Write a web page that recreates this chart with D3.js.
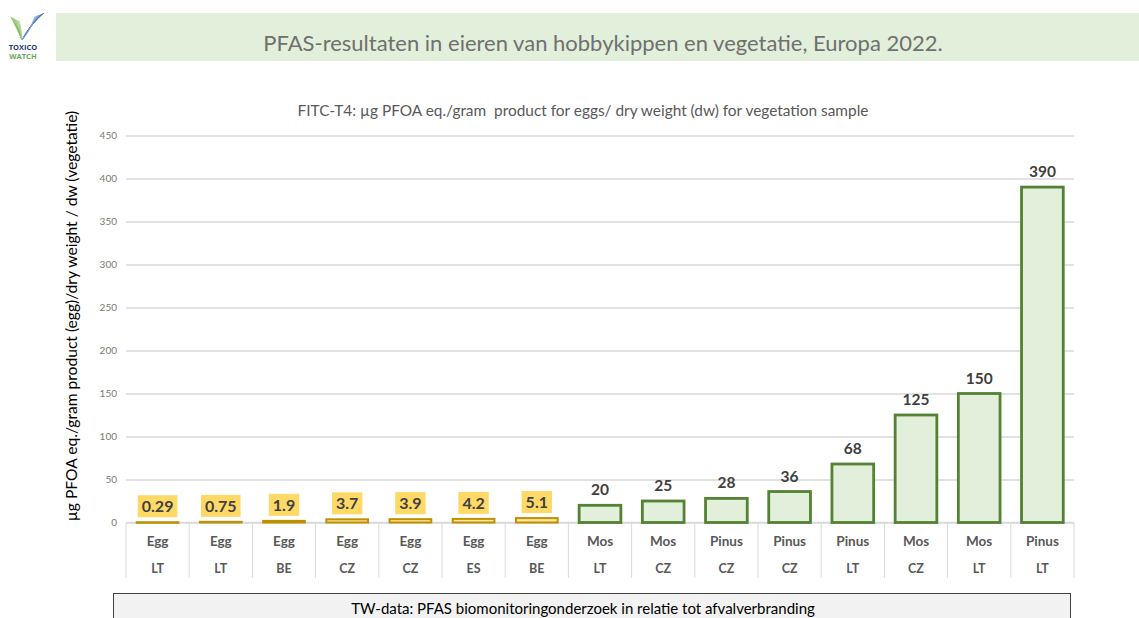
<!DOCTYPE html>
<html><head><meta charset="utf-8">
<script src="https://cdn.jsdelivr.net/npm/d3@7"></script>
<style>body{margin:0;background:#fff}svg{display:block}</style>
</head><body>
<script>
const products = ["Egg","Egg","Egg","Egg","Egg","Egg","Egg","Mos","Mos","Pinus","Pinus","Pinus","Mos","Mos","Pinus"];
const countries = ["LT","LT","BE","CZ","CZ","ES","BE","LT","CZ","CZ","CZ","LT","CZ","LT","LT"];
const values = [0.29,0.75,1.9,3.7,3.9,4.2,5.1,20,25,28,36,68,125,150,390];
const labels = ["0.29","0.75","1.9","3.7","3.9","4.2","5.1","20","25","28","36","68","125","150","390"];
const yTicks = [0,50,100,150,200,250,300,350,400,450];

const W=1139,H=618;
const svg=d3.select("body").append("svg").attr("width",W).attr("height",H);
const font="Lato, 'Open Sans', sans-serif";

// banner
svg.append("rect").attr("x",56).attr("y",13).attr("width",W-56).attr("height",48).attr("fill","#e2efda");
svg.append("text").attr("x",603).attr("y",51).attr("text-anchor","middle").attr("font-family",font)
  .attr("font-size",22).attr("fill","#707070").text("PFAS-resultaten in eieren van hobbykippen en vegetatie, Europa 2022.");

// logo
const lg=svg.append("g");
for(let i=0;i<8;i++){
  lg.append("path").attr("d",`M${11+i*1.2},${17+i*0.6} Q${18+i*0.5},${30} ${22},${40}`).attr("fill","none")
    .attr("stroke",d3.interpolateRgb("#6fb040","#a9d18e")(i/7)).attr("stroke-width",0.8);
  lg.append("path").attr("d",`M${44-i*1.3},${13+i*0.5} Q${30},${24+i} ${22},${40}`).attr("fill","none")
    .attr("stroke",d3.interpolateRgb("#2e4fa0","#7fa7d8")(i/7)).attr("stroke-width",0.8);
}
lg.append("text").attr("x",23).attr("y",50).attr("text-anchor","middle").attr("font-family","'Open Sans',sans-serif")
  .attr("font-weight","bold").attr("font-size",7.5).attr("fill","#1f3c7a").text("TOXICO");
lg.append("text").attr("x",23).attr("y",59).attr("text-anchor","middle").attr("font-family","'Open Sans',sans-serif")
  .attr("font-weight","bold").attr("font-size",7.5).attr("fill","#6aa84f").text("WATCH");

// chart title
svg.append("text").attr("x",583).attr("y",116).attr("text-anchor","middle").attr("font-family",font)
  .attr("font-size",15.4).attr("fill","#595959").attr("xml:space","preserve")
  .text("FITC-T4: µg PFOA eq./gram  product for eggs/ dry weight (dw) for vegetation sample");

const x0=126,x1=1074,yb=522.5,yt=135.5;
const x=d3.scaleBand().domain(d3.range(values.length)).range([x0,x1]).paddingInner(0.34).paddingOuter(0.17);
const xb=d3.scaleBand().domain(d3.range(values.length)).range([x0,x1]);
const y=d3.scaleLinear().domain([0,450]).range([yb,yt]);

// gridlines
const ax=svg.append("g").attr("transform",`translate(${x0},0)`)
  .call(d3.axisLeft(y).tickValues(yTicks).tickSize(-(x1-x0)).tickPadding(9));
ax.select(".domain").remove();
ax.selectAll(".tick line").attr("stroke","#d9d9d9").attr("stroke-width",1.3);
ax.selectAll(".tick text").attr("font-family",font).attr("font-size",10).attr("fill","#7a7a7a");

// y-axis title
svg.append("text").attr("transform",`translate(77,316) rotate(-90)`).attr("text-anchor","middle")
  .attr("font-family",font).attr("font-size",15.6).attr("fill","#000")
  .text("µg PFOA eq./gram product (egg)/dry weight / dw (vegetatie)");

// category dividers
const cg=svg.append("g");
d3.range(values.length+1).forEach(i=>{
  const xx=i<values.length?xb(i):x1;
  cg.append("line").attr("x1",xx).attr("x2",xx).attr("y1",yb).attr("y2",578).attr("stroke","#d9d9d9").attr("stroke-width",1);
});
cg.append("line").attr("x1",x0).attr("x2",x1).attr("y1",yb).attr("y2",yb).attr("stroke","#d9d9d9").attr("stroke-width",1.3);

products.forEach((p,i)=>{
  const cx=xb(i)+xb.bandwidth()/2;
  cg.append("text").attr("x",cx).attr("y",546).attr("text-anchor","middle").attr("font-family",font)
    .attr("font-weight","bold").attr("font-size",13.5).attr("fill","#595959").text(p);
  cg.append("text").attr("x",cx).attr("y",572.5).attr("text-anchor","middle").attr("font-family",font)
    .attr("font-weight","bold").attr("font-size",12.5).attr("fill","#595959").text(countries[i]);
});

// bars
const isEgg=i=>products[i]==="Egg";
const bg=svg.append("g");
values.forEach((v,i)=>{
  const top=y(v);
  bg.append("rect").attr("x",x(i)).attr("y",top).attr("width",x.bandwidth()).attr("height",Math.max(yb-top,0.5))
    .attr("fill",isEgg(i)?"#ffe699":"#e2efda").attr("stroke",isEgg(i)?"#bf9000":"#548235")
    .attr("stroke-width",isEgg(i)?2:2.8);
});

// labels
values.forEach((v,i)=>{
  const cx=x(i)+x.bandwidth()/2;
  const top=y(v);
  if(isEgg(i)){
    const t=bg.append("text").attr("x",cx).attr("y",top-10).attr("text-anchor","middle").attr("font-family",font)
      .attr("font-weight","bold").attr("font-size",16).attr("fill","#404040").text(labels[i]);
    const bb=t.node().getBBox();
    bg.insert("rect",()=>t.node()).attr("x",bb.x-4).attr("y",top-27).attr("width",bb.width+8).attr("height",22).attr("fill","#ffd966");
  } else {
    bg.append("text").attr("x",cx).attr("y",top-10).attr("text-anchor","middle").attr("font-family",font)
      .attr("font-weight","bold").attr("font-size",15.5).attr("fill","#404040").text(labels[i]);
  }
});

// bottom box
svg.append("rect").attr("x",113.5).attr("y",593.5).attr("width",957).attr("height",40).attr("fill","#f2f2f2").attr("stroke","#404040").attr("stroke-width",1);
svg.append("text").attr("x",583).attr("y",614).attr("text-anchor","middle").attr("font-family",font)
  .attr("font-size",15).attr("fill","#000").text("TW-data: PFAS biomonitoringonderzoek in relatie tot afvalverbranding");
</script>
</body></html>
